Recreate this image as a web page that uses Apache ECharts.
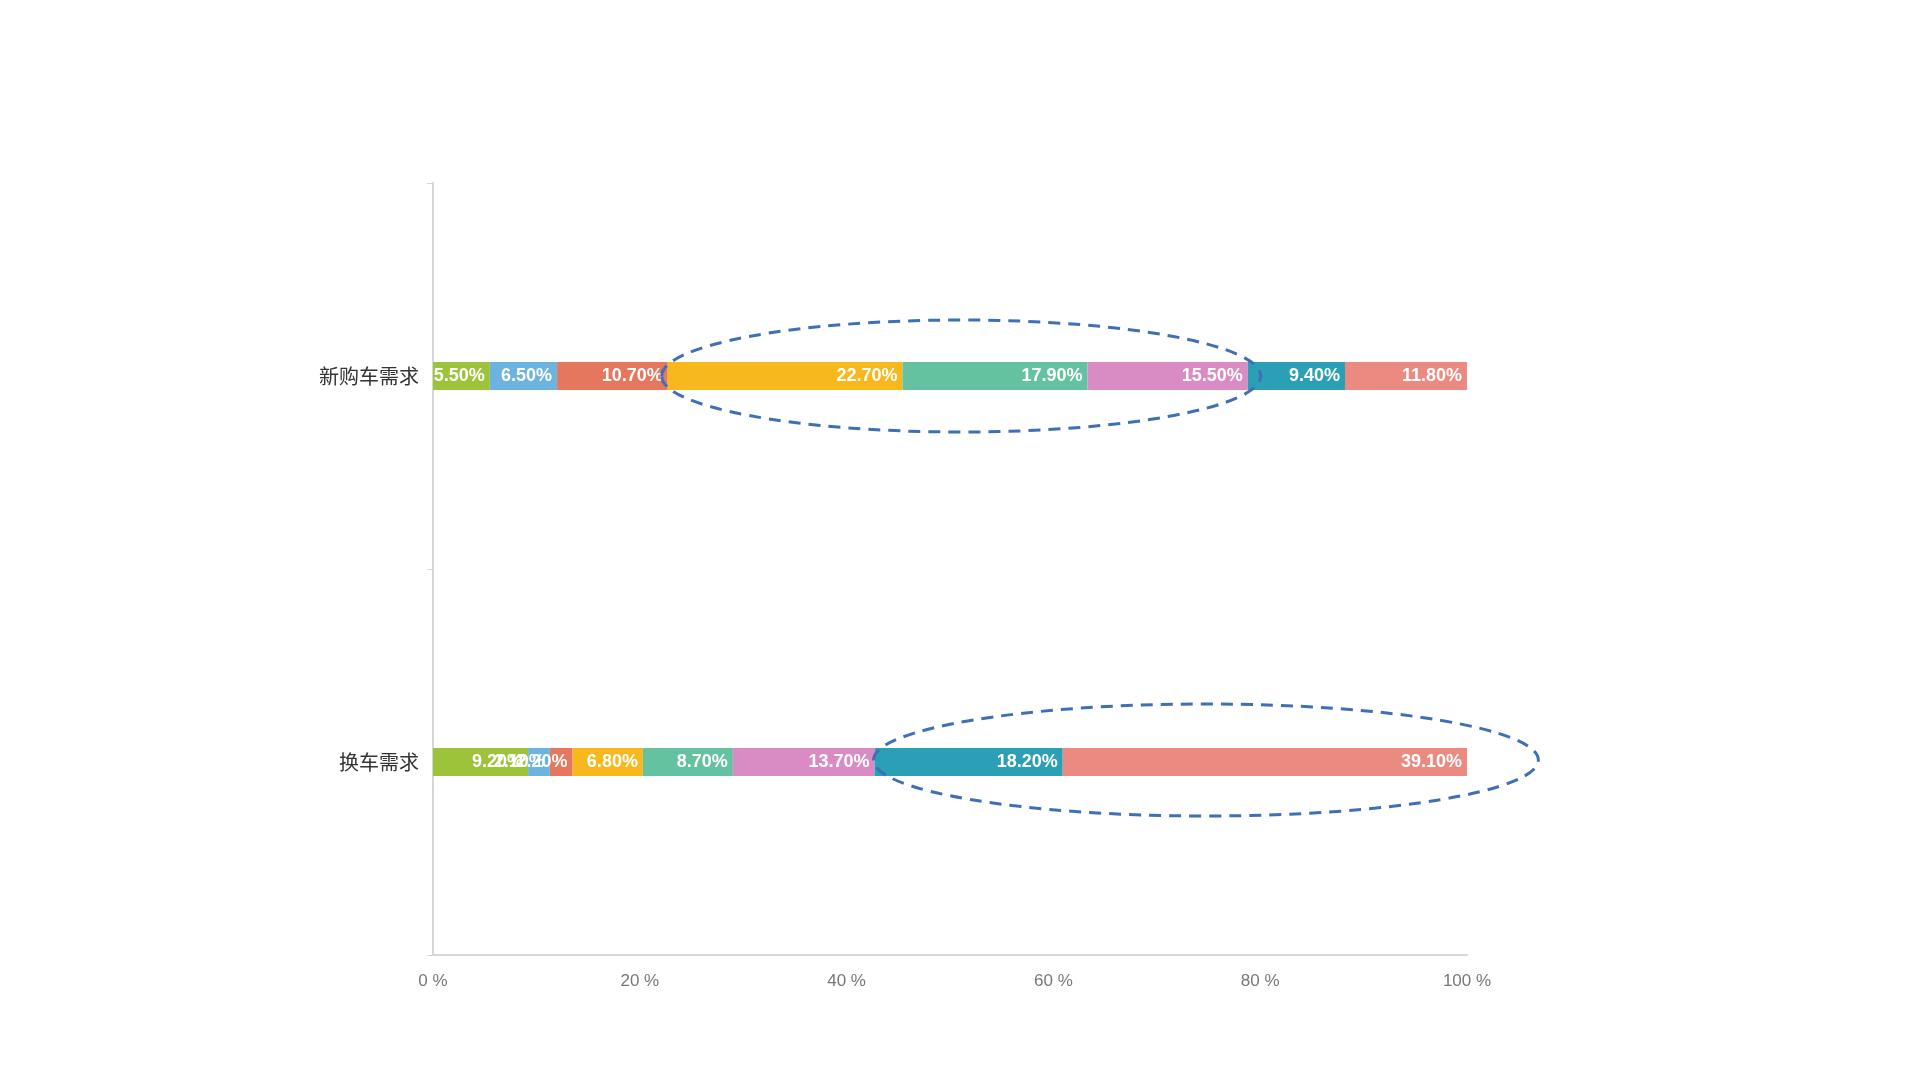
<!DOCTYPE html>
<html>
<head>
<meta charset="utf-8">
<script src="https://cdn.jsdelivr.net/npm/echarts@6/dist/echarts.min.js"></script>
<style>html,body{margin:0;padding:0;background:#fff}#c{width:1920px;height:1080px}</style>
</head>
<body>
<div id="c"></div>
<script>
var categories = ['换车需求', '新购车需求'];
var xTicks = [0, 20, 40, 60, 80, 100];
var s1 = [9.20, 5.50];
var s2 = [2.10, 6.50];
var s3 = [2.20, 10.70];
var s4 = [6.80, 22.70];
var s5 = [8.70, 17.90];
var s6 = [13.70, 15.50];
var s7 = [18.20, 9.40];
var s8 = [39.10, 11.80];
var seriesData = [s1, s2, s3, s4, s5, s6, s7, s8];
var colors = ['#9dc33b', '#6cb3e0', '#e6775f', '#f7b81d', '#65c2a0', '#d98bc4', '#2a9fb5', '#ea8a80'];

var chart = echarts.init(document.getElementById('c'));
var series = seriesData.map(function (d, i) {
  return {
    type: 'bar',
    stack: 'total',
    barWidth: 28,
    data: d,
    itemStyle: { color: colors[i] },
    label: {
      show: true,
      position: 'insideRight',
      color: '#fff',
      fontSize: 18,
      fontWeight: 'bold',
      fontFamily: 'Liberation Sans, Arial, sans-serif',
      formatter: function (p) { return p.value.toFixed(2) + '%'; }
    }
  };
});
chart.setOption({
  backgroundColor: '#fff',
  animation: false,
  grid: { left: 433, right: 453, top: 183, bottom: 125 },
  xAxis: {
    type: 'value', min: xTicks[0], max: xTicks[xTicks.length - 1], interval: 20,
    axisLine: { show: true, lineStyle: { color: '#d6d6d6', width: 2 } },
    axisTick: { show: false },
    splitLine: { show: false },
    axisLabel: { formatter: '{value} %', color: '#777', fontSize: 17, margin: 18,
      fontFamily: 'Liberation Sans, Arial, sans-serif' }
  },
  yAxis: {
    type: 'category', data: categories,
    axisLine: { show: true, lineStyle: { color: '#d6d6d6', width: 2 } },
    axisTick: { show: true, length: 6, lineStyle: { color: '#d6d6d6' } },
    axisLabel: { color: '#333', fontSize: 20, margin: 14,
      fontFamily: 'Noto Sans CJK SC, sans-serif' }
  },
  series: series
});

function cum(arrIdx, upto) {
  var t = 0;
  for (var k = 0; k < upto; k++) t += seriesData[k][arrIdx];
  return t;
}
// annotation ellipses, placed from data through the axes
var a0 = chart.convertToPixel({ gridIndex: 0 }, [cum(1, 3), categories[1]]);
var a1 = chart.convertToPixel({ gridIndex: 0 }, [cum(1, 6), categories[1]]);
var b0 = chart.convertToPixel({ gridIndex: 0 }, [cum(0, 6), categories[0]]);
var b1 = chart.convertToPixel({ gridIndex: 0 }, [106.9, categories[0]]);
var aL = a0[0] - 6, aR = a1[0] + 13;
var bL = b0[0] - 1, bR = b1[0];
var dash = { stroke: '#3f6fb5', lineWidth: 3, fill: 'none', lineDash: [12, 8] };
chart.setOption({
  graphic: [
    { type: 'ellipse', shape: { cx: (aL + aR) / 2, cy: a0[1], rx: (aR - aL) / 2, ry: 56 }, style: dash, z: 100 },
    { type: 'ellipse', shape: { cx: (bL + bR) / 2, cy: b0[1] - 2, rx: (bR - bL) / 2, ry: 56 }, style: dash, z: 100 }
  ]
});
</script>
</body>
</html>
